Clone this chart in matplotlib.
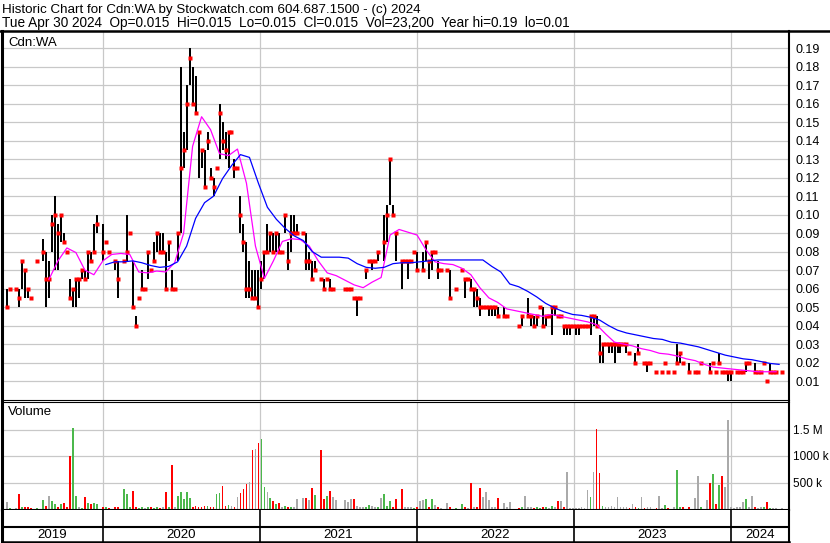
import numpy as np
import pandas as pd
import matplotlib
matplotlib.use("Agg")
import matplotlib.pyplot as plt
import matplotlib.dates as mdates
from matplotlib.lines import Line2D

plt.rcParams['font.family'] = ['Liberation Sans', 'DejaVu Sans']

nan = float('nan')

# weekly bars for Cdn:WA, prices in cents (nan = no trade that week)
high = [6, 6, nan, 6, 6, 7.5, 7, 6, 5.5, nan,
        7.5, nan, 8.7, 8, 7.5, 10, 11, 9.5, 10, 9,
        8, 6.5, 6, 6.5, 6.5, 7, 7, 8, 8, 9.5,
        10, nan, 9.5, 8.5, 8, nan, 7.5, 7.5, nan, 7.5,
        10, 9, 7.5, 4.5, 5.5, 7, 6, 8, 7, 8.5,
        9, 9, 9, 8, 8.5, 7, 6, 9, 18, 14.5,
        17, 19, 18, 17.5, 14.5, 13.5, 13.5, 14.5, 12.5, 12,
        12.5, 16, 15, 14.5, 14.5, 14.5, 13, 12.5, 11, 9.5,
        8.5, 7.5, 7, 7, 7, 7.5, 8, 9.5, 9, 9,
        9, 9, 8, 10, 8.5, 10, 10, 9.5, nan, 9,
        9, 8, 7.5, 7.5, nan, 6.5, 6.5, 6.5, 6.5, 6,
        nan, nan, nan, 6, 6, 6, 5.5, 5.5, 5.5, nan,
        7, 7.5, 7.5, 7.5, 8, nan, 10, 10.5, 13, 10.5,
        9, nan, 7.5, 7.5, 7.5, 7.5, 8, 8, nan, 8,
        8.5, 7.5, 8, 8, 7.5, 7, nan, 7, 7, nan,
        6, nan, 7, 6.5, 6.5, 6.5, 6, 6, 5.5, 5,
        5, 5, 5, 5, 5, nan, 5, 4.5, nan, nan,
        nan, 4, 4.5, nan, 5.5, 4.5, 4.5, 4.5, 5, 5,
        4.5, 4.5, 5, 5, 4.5, 4.5, 4, 4, 4, 4,
        4, 4, 4, 4, 4, 4.5, 4.5, 4.5, 3.5, 3,
        3, 3, 3, 3, 3, 3, 3, 3, 2.5, nan,
        2.5, 3, nan, 2, 2, 2, nan, 1.5, nan, 1.5,
        2, 1.5, nan, 1.5, 3, 2.5, 2, nan, 2, nan,
        1.5, 1.5, 2, nan, nan, 2, 2, 1.5, 2.5, 1.5,
        1.5, 1.5, 1.5, nan, 1.5, 1.5, 1.5, 2, 2, nan,
        2, 1.5, 1.5, 2, 1, 2, 1.5, 1.5, nan, 1.5]

low = [5, 6, nan, 6, 5, 6, 5.5, 5.5, 5.5, nan,
       7.5, nan, 7.5, 5, 5.5, 8, 7, 7, 8.5, 8.5,
       8, 5.5, 5, 5, 5.5, 6.5, 6.5, 6.5, 7.5, 8,
       9, nan, 7.5, 8.5, 8, nan, 7, 5.5, nan, 7.5,
       7.5, 9, 5, 4, 5.5, 6, 6, 6.5, 7, 7.5,
       8, 8, 8, 6, 7.5, 6, 6, 7.5, 9, 12.5,
       13.5, 17, 16, 15.5, 12, 12.5, 11.5, 13.5, 12, 11,
       12.5, 13, 13.5, 13, 12.5, 14.5, 12, 12.5, 9, 8,
       5.5, 5.5, 5.5, 5.5, 5, 6, 6.5, 8, 8, 8,
       8, 8, 8, 9, 7, 8, 9, 9, nan, 9,
       7, 7, 6.5, 7, nan, 6.5, 6, 6.5, 6, 6,
       nan, nan, nan, 6, 6, 6, 5.5, 4.5, 5.5, nan,
       6.5, 7.5, 7, 7.5, 7.5, nan, 7.5, 8.5, 10.5, 10,
       7.5, nan, 6, 7.5, 6.5, 7.5, 8, 7, nan, 7,
       7.5, 6.5, 7, 8, 6.5, 7, nan, 7, 5.5, nan,
       6, nan, 7, 5.5, 6.5, 6, 5, 5, 4.5, 5,
       5, 4.5, 4.5, 4.5, 4.5, nan, 4.5, 4.5, nan, nan,
       nan, 4, 4, nan, 4.5, 4, 4, 4, 5, 4,
       4, 4.5, 3.5, 4.5, 4.5, 4.5, 3.5, 3.5, 3.5, 4,
       3.5, 3.5, 4, 4, 4, 3.5, 4, 4, 2, 2,
       3, 2.5, 2.5, 2, 2.5, 2.5, 3, 2.5, 2.5, nan,
       2, 2.5, nan, 2, 1.5, 2, nan, 1.5, nan, 1.5,
       2, 1.5, nan, 1.5, 2, 2, 2, nan, 1.5, nan,
       1.5, 1.5, 2, nan, nan, 1.5, 2, 1.5, 2, 1.5,
       1.5, 1, 1, nan, 1.5, 1.5, 1.5, 1.5, 2, nan,
       1.5, 1.5, 1.5, 2, 1, 1.5, 1.5, 1.5, nan, 1.5]

close = [5, 6, nan, 6, 5.5, 7.5, 7, 6, 5.5, nan,
         7.5, nan, 8, 6.5, 6.5, 9.5, 10, 9, 10, 8.5,
         8, 5.5, 6, 6.5, 6.5, 7, 6.5, 8, 7.5, 8,
         9.5, nan, 8, 8.5, 8, nan, 7.5, 6.5, nan, 7.5,
         8, 9, 5, 4, 5.5, 6, 6, 8, 7, 7.5,
         9, 8, 8, 6, 8.5, 6, 6, 9, 12.5, 13.5,
         16, 18.5, 16, 15.5, 14.5, 13.5, 11.5, 14, 12, 11.5,
         12.5, 15.5, 14, 13.5, 14.5, 14.5, 12.5, 12.5, 10, 8.5,
         6, 6, 5.5, 5.5, 5, 6.5, 8, 8, 9, 8,
         9, 8, 8, 10, 7.5, 9, 9, 9, nan, 9,
         7.5, 7.5, 6.5, 7, nan, 6.5, 6, 6.5, 6, 6,
         nan, nan, nan, 6, 6, 6, 5.5, 5.5, 5.5, nan,
         7, 7.5, 7.5, 7.5, 8, nan, 8.5, 10, 13, 10,
         9, nan, 7.5, 7.5, 7.5, 7.5, 8, 7, nan, 7,
         8.5, 7.5, 8, 8, 7, 7, nan, 7, 5.5, nan,
         6, nan, 7, 6.5, 6.5, 6, 6, 5.5, 5, 5,
         5, 5, 5, 5, 4.5, nan, 4.5, 4.5, nan, nan,
         nan, 4, 4.5, nan, 4.5, 4.5, 4, 4.5, 5, 4,
         4.5, 4.5, 5, 5, 4.5, 4.5, 4, 4, 4, 4,
         4, 4, 4, 4, 4, 4.5, 4.5, 4, 2.5, 3,
         3, 3, 3, 3, 3, 3, 3, 3, 2.5, nan,
         2, 2.5, nan, 2, 2, 2, nan, 1.5, nan, 1.5,
         2, 1.5, nan, 1.5, 2, 2.5, 2, nan, 1.5, nan,
         1.5, 1.5, 2, nan, nan, 1.5, 2, 1.5, 2, 1.5,
         1.5, 1.5, 1.5, nan, 1.5, 1.5, 1.5, 2, 2, nan,
         1.5, 1.5, 1.5, 2, 1, 1.5, 1.5, 1.5, nan, 1.5]

# weekly volume, thousands of shares
volume = [126, 20, 0, 15, 283, 30, 44, 30, 20, 0,
          15, 0, 170, 60, 245, 157, 94, 40, 100, 120,
          30, 1000, 1520, 245, 30, 20, 233, 120, 100, 120,
          90, 0, 40, 44, 20, 0, 40, 30, 0, 377,
          283, 30, 346, 40, 20, 40, 20, 45, 30, 20,
          40, 20, 30, 320, 40, 830, 40, 245, 320, 195,
          327, 200, 40, 60, 30, 40, 60, 60, 30, 40,
          277, 308, 434, 60, 80, 50, 40, 220, 310, 377,
          470, 515, 1110, 1130, 1250, 1330, 420, 320, 200, 150,
          100, 120, 40, 50, 30, 40, 40, 195, 0, 215,
          215, 170, 396, 270, 0, 1110, 195, 245, 346, 233,
          170, 0, 0, 170, 130, 180, 190, 60, 40, 40,
          30, 80, 60, 40, 40, 215, 277, 60, 150, 40,
          190, 0, 384, 40, 40, 30, 20, 30, 160, 170,
          190, 40, 195, 80, 30, 20, 0, 107, 30, 0,
          20, 0, 94, 30, 20, 485, 30, 40, 390, 220,
          320, 170, 30, 40, 207, 0, 107, 30, 126, 0,
          0, 20, 30, 245, 30, 30, 20, 30, 20, 30,
          30, 20, 60, 30, 150, 157, 30, 690, 20, 20,
          20, 20, 30, 20, 360, 233, 705, 1510, 686, 60,
          40, 40, 60, 40, 220, 40, 30, 40, 20, 90,
          30, 20, 233, 20, 30, 40, 0, 20, 250, 20,
          70, 20, 0, 30, 736, 40, 30, 0, 30, 0,
          200, 623, 40, 0, 170, 497, 660, 100, 453, 623,
          420, 1680, 40, 20, 30, 40, 140, 190, 30, 245,
          30, 20, 30, 30, 126, 20, 20, 20, 0, 23]

# moving averages (cents), every third week
ma_fast = [6.5, 7.5, 8.2, 7.95, 7.0, 6.75, 7.5, 7.85, 7.9, 7.85,
           6.9, 6.85, 6.95, 6.9, 7.4, 9.0, 13.7, 15.3, 14.6, 13.3,
           13.2, 13.55, 11.7, 8.3, 6.55, 7.5, 8.55, 8.7, 8.65, 8.3,
           7.5, 6.85, 6.7, 6.45, 6.2, 6.05, 6.35, 6.6, 8.9, 9.2,
           9.05, 8.9, 8.1, 7.45, 7.35, 7.3, 7.1, 6.75, 6.05, 5.5,
           5.25, 4.9, 4.8, 4.7, 4.6, 4.5, 4.6, 4.5, 4.4, 4.3,
           4.2, 4.05, 3.55, 3.1, 3.0, 2.9, 2.75, 2.65, 2.5, 2.45,
           2.35, 2.2, 2.1, 1.9, 1.75, 1.7, 1.65, 1.6, 1.55, 1.5,
           1.5, 1.5]
ma_slow = [7.3, 7.45, 7.45, 7.5, 7.4, 7.25, 7.15, 7.2, 7.45, 8.3,
           9.8, 10.65, 11.0, 11.95, 12.65, 13.25, 13.1, 11.7, 10.4, 9.75,
           9.25, 8.85, 8.6, 8.0, 7.7, 7.7, 7.7, 7.65, 7.35, 7.15,
           7.1, 7.15, 7.35, 7.4, 7.4, 7.45, 7.5, 7.55, 7.55, 7.55,
           7.55, 7.55, 7.55, 7.2, 6.9, 6.25, 6.1, 5.85, 5.55, 5.2,
           4.95, 4.75, 4.6, 4.55, 4.45, 4.3, 4.0, 3.75, 3.6, 3.5,
           3.4, 3.3, 3.25, 3.1, 3.05, 2.95, 2.85, 2.7, 2.55, 2.4,
           2.3, 2.2, 2.15, 2.05, 1.95, 1.9]

years = [2019, 2020, 2021, 2022, 2023, 2024]
title1 = "Historic Chart for Cdn:WA by Stockwatch.com 604.687.1500 - (c) 2024"
title2 = ("Tue Apr 30 2024  Op=0.015  Hi=0.015  Lo=0.015  Cl=0.015  "
          "Vol=23,200  Year hi=0.19  lo=0.01")

dates = pd.date_range('2019-05-24', '2024-04-30', periods=len(close))
hi = np.array(high) / 100
lo = np.array(low) / 100
cl = np.array(close) / 100
vol = np.array(volume, dtype=float)

prev = pd.Series(cl).ffill().shift(1).values
colors = []
for c, p in zip(cl, prev):
    if np.isnan(c) or np.isnan(p) or c == p:
        colors.append('#aaaaaa')
    elif c > p:
        colors.append('#4cb84c')
    else:
        colors.append('#ff0000')

# ---- layout (pixel boxes) ----
W, H = 830, 543
fig = plt.figure(figsize=(W / 100, H / 100), dpi=100)
fig.patch.set_facecolor('white')

def box(l, t, r, b):
    return [l / W, 1 - b / H, (r - l) / W, (b - t) / H]

ax_p = fig.add_axes(box(2, 31, 789, 400))
ax_v = fig.add_axes(box(2, 402, 789, 509.5), sharex=ax_p)
ax_y = fig.add_axes(box(2, 509.5, 789, 542), sharex=ax_p)

ppd = 157 / 365.25
x2020 = mdates.date2num(pd.Timestamp('2020-01-01'))
x_left = x2020 - (102.5 - 2) / ppd
x_right = x2020 + (789 - 102.5) / ppd
year_x = [mdates.date2num(pd.Timestamp(f'{y}-01-01')) for y in years[1:]]

grid_c = '#c8c8c8'

# ---- price panel ----
ax_p.set_xlim(x_left, x_right)
ax_p.set_ylim(0.01 - 19 / 1848, 0.01 + 350 / 1848)
for v in np.arange(0.01, 0.195, 0.01):
    ax_p.axhline(v, color=grid_c, lw=0.9, zorder=0)
for xv in year_x:
    ax_p.axvline(xv, color=grid_c, lw=0.9, zorder=0)

m = ~np.isnan(cl) & (hi > lo)
ax_p.vlines(dates[m], lo[m], hi[m], color='black', lw=1.1, zorder=2,
            antialiased=False)
ax_p.plot(dates, cl, ls='none', marker='s', ms=2.5, color='red',
          mec='none', zorder=3, antialiased=False)
ax_p.plot(dates[14::3], np.array(ma_fast) / 100, color='#ff00ff', lw=0.9, zorder=4)
ax_p.plot(dates[33::3], np.array(ma_slow) / 100, color='#0000ff', lw=0.9, zorder=4)

ax_p.yaxis.tick_right()
ax_p.set_yticks(np.arange(0.01, 0.195, 0.01))
ax_p.set_yticklabels([f'{v:.2f}' for v in np.arange(0.01, 0.195, 0.01)])
ax_p.tick_params(axis='y', length=0, pad=5, labelsize=9)
ax_p.tick_params(axis='x', length=0, labelbottom=False)
ax_p.spines['top'].set_visible(False)
ax_p.spines['left'].set_linewidth(2.2)
ax_p.spines['right'].set_linewidth(1.5)
ax_p.spines['bottom'].set_linewidth(0.8)
ax_p.text(0.008, 0.985, 'Cdn:WA', transform=ax_p.transAxes, fontsize=9.5,
          va='top', ha='left')

# ---- volume panel ----
ax_v.set_ylim(-0.5 * 500 / 26.5, 107 * 500 / 26.5)
for v in [500, 1000, 1500]:
    ax_v.axhline(v, color=grid_c, lw=0.9, zorder=0)
for xv in year_x:
    ax_v.axvline(xv, color=grid_c, lw=0.9, zorder=0)
ax_v.bar(dates, vol, width=4.2, color=colors, linewidth=0, zorder=2,
         antialiased=False)
ax_v.yaxis.tick_right()
ax_v.set_yticks([500, 1000, 1500])
ax_v.set_yticklabels(['500 k', '1000 k', '1.5 M'])
ax_v.tick_params(axis='y', length=0, pad=3, labelsize=8.5)
ax_v.tick_params(axis='x', length=0, labelbottom=False)
ax_v.spines['left'].set_linewidth(2.2)
ax_v.spines['right'].set_linewidth(1.5)
ax_v.spines['top'].set_linewidth(0.8)
ax_v.spines['bottom'].set_linewidth(1.5)
ax_v.text(0.008, 0.96, 'Volume', transform=ax_v.transAxes, fontsize=9.5,
          va='top', ha='left')

# ---- year strip ----
ax_y.set_ylim(32.5, 0)
ax_y.axhline(17, color='black', lw=1.5)
for xv in year_x:
    ax_y.axvline(xv, color='black', lw=1.2)
edges = [x_left] + year_x + [x_right]
for y, a, b in zip(years, edges[:-1], edges[1:]):
    ax_y.text((a + b) / 2, 25.5, str(y), ha='center', va='center', fontsize=9.5)
ax_y.set_xticks([])
ax_y.set_yticks([])
ax_y.spines['top'].set_visible(False)
ax_y.spines['left'].set_linewidth(2.2)
ax_y.spines['right'].set_linewidth(1.5)
ax_y.spines['bottom'].set_linewidth(1.8)

# ---- header ----
fig.add_artist(Line2D([0, 1], [1 - 30.5 / H, 1 - 30.5 / H], color='black', lw=1.8))
fig.text(2 / W, 1 - 10 / H, title1, fontsize=9.6, va='center', ha='left')
fig.text(2 / W, 1 - 23 / H, title2, fontsize=9.8, va='center', ha='left')

fig.savefig('out.png', dpi=100)
